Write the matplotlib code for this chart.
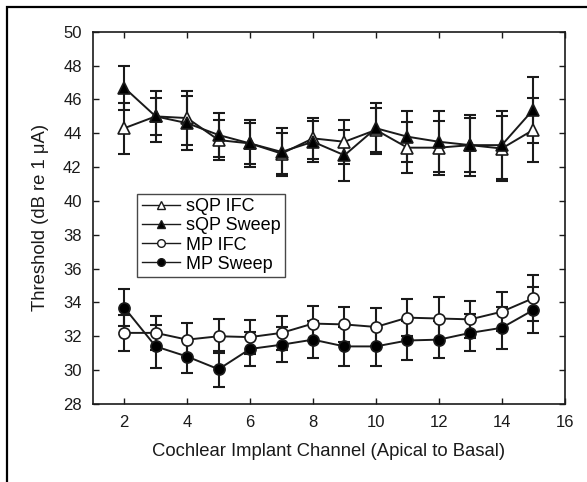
import numpy as np
import matplotlib.pyplot as plt
from matplotlib.patches import Rectangle

plt.rcParams['font.family'] = ['Liberation Sans', 'DejaVu Sans']

channels = [2, 3, 4, 5, 6, 7, 8, 9, 10, 11, 12, 13, 14, 15]

# sQP thresholds (dB re 1 uA) and error bar half-widths
sqp_ifc = [44.3, 45.0, 44.9, 43.6, 43.4, 42.8, 43.7, 43.5, 44.2, 43.15, 43.15, 43.3, 43.1, 44.2]
sqp_ifc_err = [1.5, 1.1, 1.6, 1.2, 1.2, 1.2, 1.2, 1.3, 1.3, 1.5, 1.6, 1.6, 1.9, 1.9]
sqp_sweep = [46.7, 45.0, 44.6, 43.9, 43.4, 42.9, 43.5, 42.7, 44.3, 43.8, 43.5, 43.3, 43.3, 45.4]
sqp_sweep_err = [1.3, 1.5, 1.6, 1.3, 1.4, 1.4, 1.2, 1.5, 1.5, 1.5, 1.8, 1.8, 2.0, 1.95]

# MP thresholds
mp_ifc = [32.2, 32.2, 31.8, 32.0, 31.95, 32.2, 32.75, 32.7, 32.55, 33.1, 33.05, 33.0, 33.45, 34.25]
mp_ifc_err = [1.05, 1.0, 1.0, 1.0, 1.0, 1.0, 1.05, 1.05, 1.15, 1.1, 1.25, 1.1, 1.15, 1.35]
mp_sweep = [33.7, 31.4, 30.8, 30.05, 31.25, 31.5, 31.8, 31.4, 31.4, 31.75, 31.8, 32.2, 32.5, 33.55]
mp_sweep_err = [1.1, 1.25, 1.0, 1.05, 1.0, 1.05, 1.1, 1.15, 1.15, 1.15, 1.1, 1.1, 1.25, 1.35]

fig = plt.figure(figsize=(5.87, 4.82), dpi=100)
ax = fig.add_axes([0.158, 0.162, 0.804, 0.772])

# outer border of the figure panel
fig.patches.append(Rectangle((0.012, -0.1), 1.2, 1.085, transform=fig.transFigure,
                             fill=False, edgecolor='black', linewidth=1.6))

series = [
    (sqp_ifc, sqp_ifc_err, '^', 'white', 'sQP IFC'),
    (sqp_sweep, sqp_sweep_err, '^', 'black', 'sQP Sweep'),
    (mp_ifc, mp_ifc_err, 'o', 'white', 'MP IFC'),
    (mp_sweep, mp_sweep_err, 'o', 'black', 'MP Sweep'),
]

handles = []
for vals, err, mk, fc, lab in series:
    ax.errorbar(channels, vals, yerr=err, fmt='none', ecolor='#1a1a1a',
                elinewidth=1.5, capsize=4, capthick=1.5, zorder=2)
    ax.plot(channels, vals, color='#1a1a1a', linewidth=1.4, marker=mk,
            markersize=8, markerfacecolor=fc, markeredgecolor='#1a1a1a',
            markeredgewidth=1.2, zorder=3)
    h, = ax.plot([], [], color='#1a1a1a', linewidth=1.0, marker=mk, markersize=5.5,
                 markerfacecolor=fc, markeredgecolor='#1a1a1a', label=lab)
    handles.append(h)

ax.set_xlim(1, 16)
ax.set_ylim(28, 50)
ax.set_xticks(np.arange(2, 17, 2))
ax.set_yticks(np.arange(28, 51, 2))
ax.tick_params(direction='in', top=True, right=True, labelsize=12, length=4,
               width=1, colors='#1a1a1a')
ax.tick_params(axis='x', pad=8)
ax.tick_params(axis='y', pad=8)
for s in ax.spines.values():
    s.set_linewidth(1.2)
    s.set_color('#1a1a1a')

ax.set_xlabel('Cochlear Implant Channel (Apical to Basal)', fontsize=13.3,
              color='#1a1a1a', labelpad=9)
ax.set_ylabel('Threshold (dB re 1 \u03bcA)', fontsize=13.3, color='#1a1a1a', labelpad=10)

leg = ax.legend(handles=handles, loc='upper left', bbox_to_anchor=(0.094, 0.565),
                fontsize=13, frameon=True, fancybox=False, handlelength=2.1,
                handletextpad=0.35, borderpad=0.25, labelspacing=0.12,
                borderaxespad=0)
leg.get_frame().set_edgecolor('#1a1a1a')
leg.get_frame().set_linewidth(1.0)

fig.savefig('out.png', dpi=100)
